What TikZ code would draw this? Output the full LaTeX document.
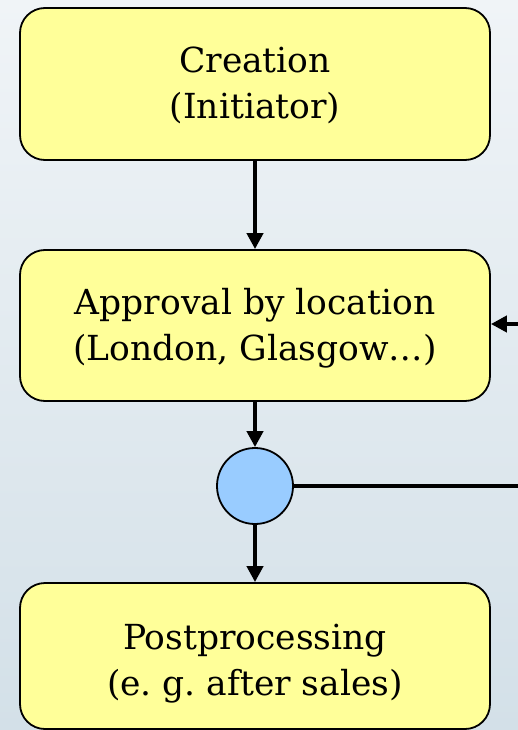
\documentclass[tikz,border=0pt]{standalone}
\usepackage{fontspec}
\setmainfont{DejaVu Serif}
\usetikzlibrary{arrows.meta}
\definecolor{boxyellow}{HTML}{FFFF99}
\definecolor{circblue}{HTML}{99CCFF}
\definecolor{bgtop}{HTML}{F0F4F7}
\definecolor{bgbot}{HTML}{D3E0E8}
\newcommand{\boxtext}[2]{\raisebox{-#1}[\height][\depth]{\begin{tabular}{@{}c@{}}#2\end{tabular}}}
\tikzset{
  stepbox/.style={draw=black, line width=1.8pt, fill=boxyellow, rounded corners=25pt,
    minimum width=470pt, align=center, inner sep=0pt,
    font=\fontsize{34.5}{46}\selectfont},
  flow/.style={line width=4.5pt, -{Triangle[length=16pt,width=16pt]}},
}
\begin{document}
\begin{tikzpicture}[x=1pt,y=-1pt]
\useasboundingbox (0,0) rectangle (518,730);
\clip (0,0) rectangle (518,730);
\shade[top color=bgtop, bottom color=bgbot] (0,0) rectangle (518,730);
\node[stepbox, minimum height=152pt] (create) at (255,84) {\boxtext{2pt}{Creation\\(Initiator)}};
\node[stepbox, minimum height=151pt] (approve) at (255,325.5) {\boxtext{3pt}{Approval by location\\(London, Glasgow\dots)}};
\node[draw=black, line width=1.8pt, fill=circblue, circle, minimum size=76pt, inner sep=0pt] (dec) at (255,486) {};
\node[stepbox, minimum height=146pt] (post) at (255,656) {\boxtext{7pt}{Postprocessing\\(e.\ g.\ after sales)}};
\coordinate (rt) at (545,486);
\coordinate (rb) at (545,324);
\draw[flow] (create) -- (approve);
\draw[flow] (approve) -- (dec);
\draw[flow] (dec) -- (post);
\draw[flow] (dec.east) -- (rt) -- (rb) -- (approve.east |- rb);
\end{tikzpicture}
\end{document}
